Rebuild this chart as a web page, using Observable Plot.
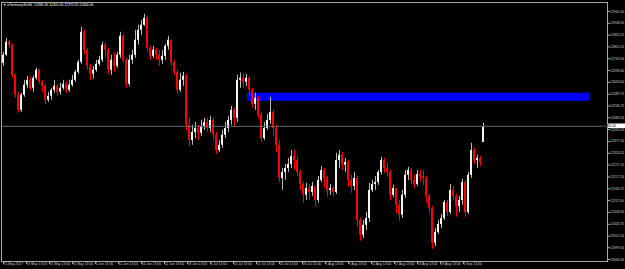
<!DOCTYPE html>
<html><head><meta charset="utf-8">
<script src="https://cdn.jsdelivr.net/npm/d3@7"></script>
<script src="https://cdn.jsdelivr.net/npm/@observablehq/plot@0.6"></script>
<style>
html,body{margin:0;padding:0;background:#000;overflow:hidden;}
#chart svg{display:block;}
</style></head><body><div id="chart"></div>
<script>
const title = "\u25BC eGermany30,H4  12383.30 12405.40 12375.55 12400.40";

const open = [
12729,12765,12823,12810,12675,12585,12517,12585,12630,12652,
12616,12661,12697,12643,12625,12562,12580,12607,12625,12598,
12616,12634,12607,12630,12652,12688,12733,12868,12787,12715,
12679,12697,12724,12742,12810,12787,12697,12742,12715,12765,
12850,12742,12634,12742,12765,12832,12877,12900,12931,12796,
12760,12787,12765,12742,12760,12805,12832,12733,12688,12607,
12652,12670,12450,12382,12418,12436,12414,12445,12463,12436,
12472,12405,12337,12360,12405,12436,12472,12517,12481,12652,
12661,12643,12661,12607,12544,12571,12495,12391,12436,12472,
12508,12436,12360,12211,12238,12256,12274,12310,12292,12238,
12184,12135,12166,12148,12175,12112,12202,12247,12211,12157,
12166,12148,12292,12315,12270,12283,12202,12175,12211,12022,
11955,12000,12031,12157,12184,12193,12238,12292,12256,12238,
12135,12166,12090,12045,12135,12225,12247,12202,12184,12229,
12220,12211,12130,12076,11919,11968,12004,12031,12103,12058,
12157,12130,12085,12112,12193,12058,12225,12337,12292,12301,
12373];

const high = [
12778,12841,12832,12814,12679,12598,12594,12652,12670,12666,
12670,12706,12702,12652,12634,12598,12616,12652,12634,12639,
12652,12643,12652,12675,12697,12742,12891,12877,12796,12724,
12715,12742,12760,12823,12819,12796,12765,12778,12778,12868,
12859,12751,12765,12787,12877,12900,12922,12949,12940,12805,
12805,12796,12787,12787,12814,12850,12832,12742,12697,12684,
12688,12679,12481,12450,12463,12450,12472,12481,12481,12490,
12481,12418,12382,12427,12463,12490,12535,12526,12675,12684,
12679,12679,12670,12616,12594,12580,12508,12463,12499,12576,
12517,12450,12382,12256,12274,12301,12337,12337,12306,12247,
12193,12189,12184,12193,12175,12220,12265,12256,12220,12184,
12175,12324,12337,12328,12301,12292,12225,12238,12220,12031,
12022,12058,12189,12202,12220,12247,12306,12301,12279,12247,
12180,12166,12112,12157,12247,12261,12256,12225,12247,12247,
12247,12220,12139,12085,11986,12022,12049,12112,12112,12184,
12175,12139,12130,12207,12202,12238,12369,12346,12315,12310,
12459];

const low = [
12715,12760,12796,12661,12571,12504,12508,12576,12616,12607,
12598,12652,12634,12598,12544,12553,12562,12594,12580,12585,
12607,12594,12598,12621,12643,12679,12724,12769,12697,12652,
12657,12688,12715,12733,12751,12679,12675,12688,12706,12751,
12729,12616,12625,12724,12751,12810,12855,12895,12778,12742,
12751,12742,12715,12724,12742,12787,12715,12675,12589,12598,
12625,12427,12355,12360,12391,12382,12400,12427,12418,12418,
12382,12319,12328,12346,12391,12418,12450,12441,12463,12616,
12616,12625,12585,12526,12517,12481,12373,12382,12427,12454,
12400,12328,12193,12157,12202,12238,12256,12247,12220,12157,
12099,12112,12112,12130,12081,12099,12193,12166,12126,12135,
12130,12139,12256,12247,12238,12171,12144,12157,11991,11928,
11941,11977,12013,12148,12157,12180,12225,12234,12216,12112,
12126,12054,12018,12031,12121,12202,12184,12166,12175,12193,
12180,12099,12054,11892,11905,11959,11986,12022,12040,12049,
12112,12036,12058,12090,12036,12049,12211,12274,12256,12265,
12373];

const close = [
12765,12823,12810,12675,12585,12517,12585,12630,12652,12616,
12661,12697,12643,12625,12562,12580,12607,12625,12598,12616,
12634,12607,12630,12652,12688,12733,12868,12787,12715,12679,
12697,12724,12742,12810,12787,12697,12742,12715,12765,12850,
12742,12634,12742,12765,12832,12877,12900,12931,12796,12760,
12787,12765,12742,12760,12805,12832,12733,12688,12607,12652,
12670,12450,12382,12418,12436,12414,12445,12463,12436,12472,
12405,12337,12360,12405,12436,12472,12517,12481,12652,12661,
12643,12661,12607,12544,12571,12495,12391,12436,12472,12508,
12436,12360,12211,12238,12256,12274,12310,12292,12238,12184,
12135,12166,12148,12175,12112,12202,12247,12211,12157,12166,
12148,12292,12315,12270,12283,12202,12175,12211,12022,11955,
12000,12031,12157,12184,12193,12238,12292,12256,12238,12135,
12166,12090,12045,12135,12225,12247,12202,12184,12229,12220,
12211,12130,12076,11919,11968,12004,12031,12103,12058,12157,
12130,12085,12112,12193,12058,12225,12337,12292,12301,12283,
12445];

// bar positions of the time-axis labels (bar index)
const timeTickBar = [-0.333, 7.333, 15, 22.667, 30.333, 38, 45.667, 53.333, 61, 68.667,
  76.333, 84, 91.667, 99.333, 107, 114.667, 122.333, 130, 137.667, 145.333, 153];
const timeLabels = ["15 May 2017","19 May 13:00","25 May 13:00","31 May 13:00","6 Jun 13:00",
  "12 Jun 13:00","16 Jun 13:00","22 Jun 13:00","28 Jun 13:00","4 Jul 13:00","10 Jul 13:00",
  "14 Jul 13:00","20 Jul 13:00","26 Jul 13:00","1 Aug 13:00","7 Aug 13:00","11 Aug 13:00",
  "17 Aug 13:00","23 Aug 13:00","29 Aug 13:00","4 Sep 13:00"];

const priceLabels = [12961.50,12908.50,12855.25,12802.25,12749.00,12696.00,12643.00,12589.75,
  12536.75,12483.50,12430.50,12377.50,12324.25,12271.25,12217.50,12164.75,12111.50,12058.50,
  12004.75,11951.50,11899.50,11846.50];

// resistance zone rectangle drawn on the chart (bar index / price)
const zoneStart = [81.33];
const zoneEnd = [195.33];
const zoneLow = [12558];
const zoneHigh = [12594];

const bid = 12445.40;

const bars = close.map((c, i) => ({i, o: open[i], h: high[i], l: low[i], c, up: c >= open[i]}));
const zone = zoneStart.map((s, k) => ({s, e: zoneEnd[k], lo: zoneLow[k], hi: zoneHigh[k]}));
const labelMap = new Map(timeTickBar.map((b, k) => [b, timeLabels[k]]));

const FS = 3.4;
const textCol = "#d0d0d0";
const axisCol = "#a8a8a8";

function bidLabel(index, scales, values, dims) {
  const y = scales.y(bid);
  const x0 = dims.width - dims.marginRight;
  const g = d3.create("svg:g");
  g.append("rect").attr("x", x0 + 1).attr("y", y - 2.3).attr("width", dims.marginRight - 1).attr("height", 4.6).attr("fill", "#ffffff");
  g.append("text").attr("x", x0 + 2).attr("y", y).attr("dy", "0.36em").attr("fill", "#000")
    .attr("font-size", FS).attr("font-family", "Liberation Sans, Arial, sans-serif").text(bid.toFixed(2));
  return g.node();
}

const chart = Plot.plot({
  width: 625, height: 269,
  marginLeft: 1, marginTop: 2, marginRight: 18, marginBottom: 8,
  style: {background: "#000", color: textCol, fontFamily: "Liberation Sans, Arial, sans-serif", fontSize: FS + "px"},
  x: {domain: [-1/3, 160], range: [2, 483], axis: null},
  y: {domain: [11846.5, 12961.5], range: [259, 11], axis: null},
  marks: [
    Plot.rect(zone, {x1: "s", x2: "e", y1: "lo", y2: "hi", fill: "#0000ff"}),
    Plot.ruleX(bars, {x: "i", y1: "l", y2: "h", stroke: d => d.up ? "#b8b8b8" : "#ff0000", strokeWidth: 1}),
    Plot.ruleX(bars, {x: "i", y1: "o", y2: "c", stroke: d => d.up ? "#f2f2f2" : "#ff0000", strokeWidth: 2, dx: -0.5}),
    Plot.ruleY([bid], {stroke: "#5f6b78", strokeWidth: 1}),
    Plot.frame({stroke: axisCol}),
    Plot.axisY(priceLabels, {anchor: "right", tickSize: 2, tickPadding: 0.6, tickFormat: d => d.toFixed(2),
      stroke: axisCol, fill: textCol, fontSize: FS, textAnchor: "start", label: null}),
    Plot.axisX(timeTickBar, {anchor: "bottom", tickSize: 3, tickPadding: -1.6, tickFormat: d => labelMap.get(d),
      stroke: axisCol, fill: textCol, fontSize: FS, textAnchor: "start", dx: 1, label: null}),
    Plot.text([title], {frameAnchor: "top-left", dx: 1.5, dy: 1.2, text: d => d, fill: "#ffffff", fontSize: FS,
      textAnchor: "start", lineAnchor: "top"}),
    bidLabel
  ]
});
document.getElementById("chart").appendChild(chart);
</script>
</body></html>
